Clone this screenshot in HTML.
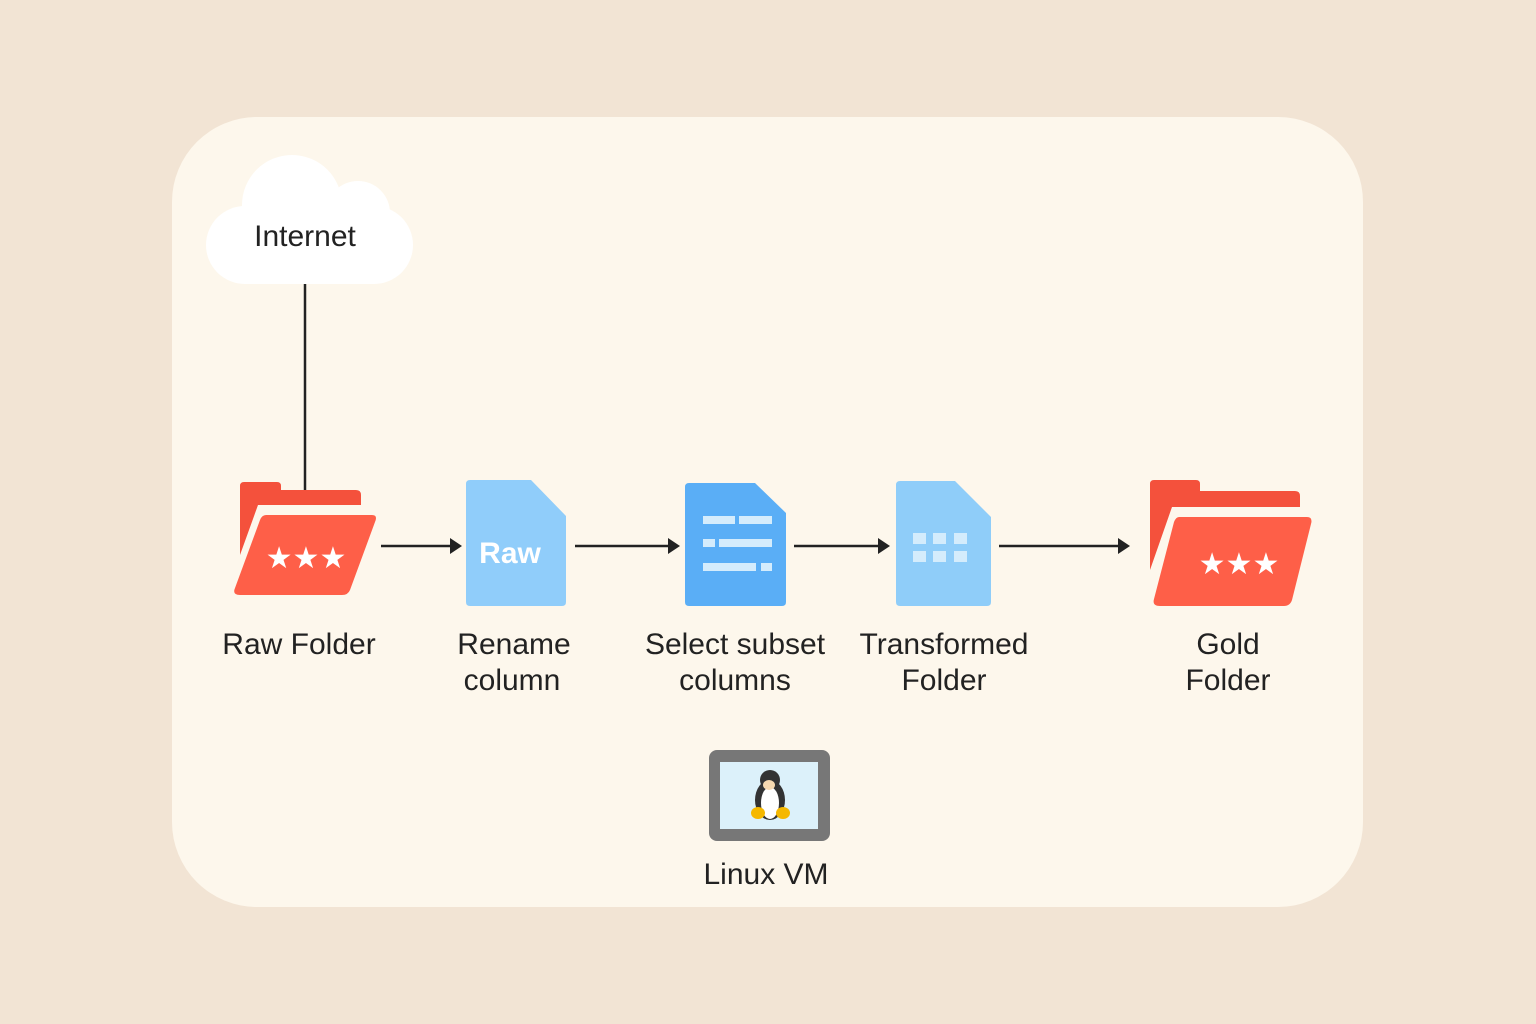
<!DOCTYPE html>
<html><head><style>
body{margin:0;background:#f2e4d4;}
svg{display:block}
text{font-family:"Liberation Sans",sans-serif;fill:#222;font-size:30px;text-anchor:middle}
</style></head><body>
<svg width="1536" height="1024" viewBox="0 0 1536 1024">
<rect width="1536" height="1024" fill="#f2e4d4"/>
<rect x="172" y="117" width="1191" height="790" rx="85" fill="#fdf7ec"/>
<!-- cloud -->
<g fill="#fff">
<circle cx="292" cy="205" r="50"/>
<circle cx="358" cy="213" r="32"/>
<circle cx="245" cy="245" r="39"/>
<circle cx="374" cy="245" r="39"/>
<rect x="245" y="206" width="130" height="78"/>
</g>
<text x="305" y="246" font-size="29">Internet</text>
<line x1="305" y1="284" x2="305" y2="490" stroke="#222" stroke-width="2.5"/>
<!-- arrows -->
<g stroke="#222" stroke-width="2.5">
<line x1="381" y1="546" x2="452" y2="546"/>
<line x1="575" y1="546" x2="670" y2="546"/>
<line x1="794" y1="546" x2="880" y2="546"/>
<line x1="999" y1="546" x2="1120" y2="546"/>
</g>
<g fill="#222">
<polygon points="450,538 462,546 450,554"/>
<polygon points="668,538 680,546 668,554"/>
<polygon points="878,538 890,546 878,554"/>
<polygon points="1118,538 1130,546 1118,554"/>
</g>
<!-- raw folder -->
<path d="M244,482 H277 Q281,482 281,486 V490 H356 Q361,490 361,495 V505 H258 L240,555 V486 Q240,482 244,482Z" fill="#f4513c"/>
<path d="M266,515 H372 Q378,515 375,522 L350,590 Q348,595 342,595 H240 Q232,595 235,588 L260,520 Q262,515 266,515Z" fill="#fe5f48"/>
<text x="306" y="568" font-size="30" fill="#fff" style="fill:#fff">★★★</text>
<!-- raw doc -->
<path d="M470,480 H531 L566,516 V602 Q566,606 562,606 H470 Q466,606 466,602 V484 Q466,480 470,480Z" fill="#90cdfa"/>
<text x="510" y="563" font-size="29" font-weight="bold" style="fill:#fff">Raw</text>
<!-- select doc -->
<path d="M689,483 H755 L786,513 V602 Q786,606 782,606 H689 Q685,606 685,602 V487 Q685,483 689,483Z" fill="#5aaef6"/>
<g fill="#d4ecfc">
<rect x="703" y="516" width="32" height="8"/><rect x="739" y="516" width="33" height="8"/>
<rect x="703" y="539" width="12" height="8"/><rect x="719" y="539" width="53" height="8"/>
<rect x="703" y="563" width="53" height="8"/><rect x="761" y="563" width="11" height="8"/>
</g>
<!-- transformed doc -->
<path d="M900,481 H955 L991,517 V602 Q991,606 987,606 H900 Q896,606 896,602 V485 Q896,481 900,481Z" fill="#8fcdf9"/>
<g fill="#d4ecfc">
<rect x="913" y="533" width="13" height="11"/><rect x="933" y="533" width="13" height="11"/><rect x="954" y="533" width="13" height="11"/>
<rect x="913" y="551" width="13" height="11"/><rect x="933" y="551" width="13" height="11"/><rect x="954" y="551" width="13" height="11"/>
</g>
<!-- gold folder -->
<path d="M1154,480 H1196 Q1200,480 1200,484 V491 H1295 Q1300,491 1300,496 V507 H1172 L1150,570 V484 Q1150,480 1154,480Z" fill="#f4513c"/>
<path d="M1179,517 H1307 Q1313,517 1311,524 L1292,600 Q1290,606 1284,606 H1160 Q1152,606 1154,599 L1174,522 Q1176,517 1179,517Z" fill="#fe5f48"/>
<text x="1239" y="574" font-size="30" style="fill:#fff">★★★</text>
<!-- labels -->
<text x="299" y="654">Raw Folder</text>
<text x="514" y="654">Rename</text><text x="512" y="690">column</text>
<text x="735" y="654">Select subset</text><text x="735" y="690">columns</text>
<text x="944" y="654">Transformed</text><text x="944" y="690">Folder</text>
<text x="1228" y="654">Gold</text><text x="1228" y="690">Folder</text>
<!-- linux vm -->
<rect x="709" y="750" width="121" height="91" rx="8" fill="#777"/>
<rect x="720" y="762" width="98" height="67" fill="#dcf1fa"/>
<ellipse cx="770" cy="800" rx="15" ry="20" fill="#333"/>
<circle cx="770" cy="780" r="10" fill="#333"/>
<ellipse cx="770" cy="803" rx="9" ry="16" fill="#fff"/>
<ellipse cx="769" cy="785" rx="6" ry="5" fill="#f7d9b0"/>
<ellipse cx="758" cy="813" rx="7" ry="6" fill="#f5b800"/>
<ellipse cx="783" cy="813" rx="7" ry="6" fill="#f5b800"/>
<text x="766" y="884">Linux VM</text>
</svg>
</body></html>
